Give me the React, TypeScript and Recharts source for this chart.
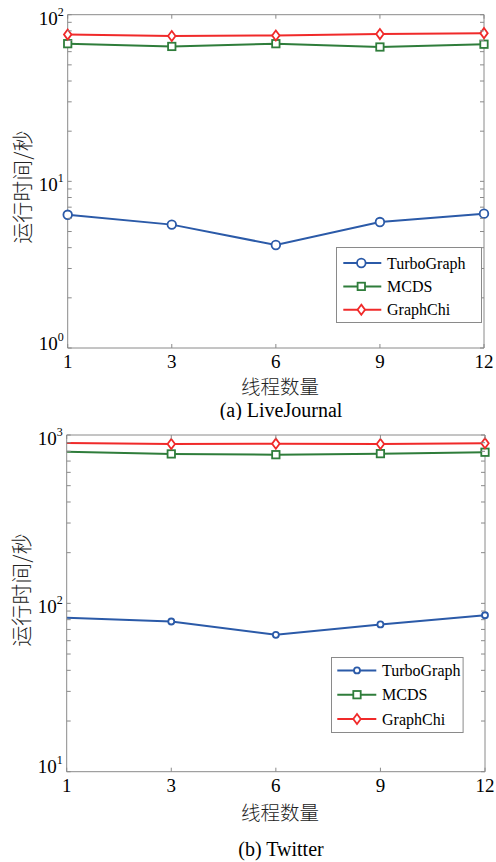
import React from 'react';
import { LineChart, Line, XAxis, YAxis, Legend, Customized } from 'recharts';

const threads = ['1', '3', '6', '9', '12'];
const seriesNames = ['TurboGraph', 'MCDS', 'GraphChi'];

// (a) LiveJournal
const ljTurbo = [6.3, 5.5, 4.15, 5.7, 6.4];
const ljMcds = [67, 64.5, 67, 64, 66.5];
const ljGraphChi = [76, 74.5, 75, 76.5, 77.5];
const ljYTicks = [1, 2, 3, 4, 5, 6, 7, 8, 9, 10, 20, 30, 40, 50, 60, 70, 80, 90, 100];

// (b) Twitter
const twTurbo = [82, 78, 65, 75, 85];
const twMcds = [795, 772, 764, 775, 790];
const twGraphChi = [895, 884, 888, 884, 893];
const twYTicks = [10, 20, 30, 40, 50, 60, 70, 80, 90, 100, 200, 300, 400, 500, 600, 700, 800, 900, 1000];

const ljData = threads.map((t, i) => ({ t, a: ljTurbo[i], b: ljMcds[i], c: ljGraphChi[i] }));
const twData = threads.map((t, i) => ({ t, a: twTurbo[i], b: twMcds[i], c: twGraphChi[i] }));

const BLUE = '#2b5aa8';
const GREEN = '#2f7d3b';
const RED = '#f02a2a';
const AXIS = '#8a8a8a';
const SERIF = "'Liberation Serif', 'Times New Roman', serif";
const CJK = "'Noto Sans CJK SC', sans-serif";

type Kind = 'circle' | 'square' | 'diamond';

const marker = (kind: Kind, cx: number, cy: number, color: string, size: number) => {
  if (kind === 'circle') {
    return <circle cx={cx} cy={cy} r={size} fill="#fff" stroke={color} strokeWidth={1.8} />;
  }
  if (kind === 'square') {
    return <rect x={cx - size} y={cy - size} width={size * 2} height={size * 2} fill="#fff" stroke={color} strokeWidth={1.8} />;
  }
  const w = size * 0.85;
  const h = size * 1.15;
  return (
    <path
      d={`M${cx},${cy - h} L${cx + w},${cy} L${cx},${cy + h} L${cx - w},${cy} Z`}
      fill="#fff"
      stroke={color}
      strokeWidth={1.8}
    />
  );
};

const makeDot = (kind: Kind, color: string, size: number, skipFirst: boolean) => (props: any) => {
  const { cx, cy, index } = props;
  if (cx == null || cy == null || (skipFirst && index === 0)) return <g key={`e${index}`} />;
  return <g key={`d${index}`}>{marker(kind, cx, cy, color, size)}</g>;
};

const isMajor = (v: number) => {
  const e = Math.log10(v);
  return Math.abs(e - Math.round(e)) < 1e-9;
};

const makeLeftTick = (minV: number) => (props: any) => {
  const { x, y, payload } = props;
  const v = payload.value;
  const major = isMajor(v);
  return (
    <g>
      <line x1={x} x2={x + 4} y1={y} y2={y} stroke={AXIS} strokeWidth={1} />
      {major && (
        <text
          x={x - 4}
          y={y + (v === minV ? 1.5 : 10)}
          textAnchor="end"
          fontSize={19}
          fill="#000"
          style={{ fontFamily: SERIF }}
        >
          10
          <tspan dy={-9} fontSize={12}>{Math.round(Math.log10(v))}</tspan>
        </text>
      )}
    </g>
  );
};

const RightTick = (props: any) => {
  const { x, y } = props;
  return <line x1={x} x2={x - 4} y1={y} y2={y} stroke={AXIS} strokeWidth={1} />;
};

const BottomTick = (props: any) => {
  const { x, y, payload } = props;
  return (
    <g>
      <line x1={x} x2={x} y1={y} y2={y - 4} stroke={AXIS} strokeWidth={1} />
      <text x={x} y={y + 20} textAnchor="middle" fontSize={19} fill="#000" style={{ fontFamily: SERIF }}>
        {payload.value}
      </text>
    </g>
  );
};

const TopTick = (props: any) => {
  const { x, y } = props;
  return <line x1={x} x2={x} y1={y} y2={y + 4} stroke={AXIS} strokeWidth={1} />;
};

const legendColors = [BLUE, GREEN, RED];
const legendKinds: Kind[] = ['circle', 'square', 'diamond'];

const makeLegend = (w: number, h: number, rows: number[], l1: number, l2: number, mx: number, tx: number, sizes: number[]) => () => (
  <svg width={w} height={h} style={{ display: 'block', overflow: 'visible' }}>
    <rect x={0.5} y={0.5} width={w - 1} height={h - 1} fill="#fff" stroke={AXIS} strokeWidth={1} />
    {seriesNames.map((n, i) => (
      <g key={n}>
        <line x1={l1} x2={l2} y1={rows[i]} y2={rows[i]} stroke={legendColors[i]} strokeWidth={2} />
        {marker(legendKinds[i], mx, rows[i], legendColors[i], sizes[i])}
        <text x={tx} y={rows[i] + 5.5} fontSize={16} fill="#000" style={{ fontFamily: SERIF }}>
          {n}
        </text>
      </g>
    ))}
  </svg>
);

const makeTitles = (yx: number, yc: number, xTitleY: number, capY: number, caption: string) => () => (
  <g>
    <text
      x={yx}
      y={yc}
      transform={`rotate(-90 ${yx} ${yc})`}
      textAnchor="middle"
      dominantBaseline="central"
      fontSize={21}
      fontWeight={300}
      fill="#222"
      style={{ fontFamily: CJK }}
    >
      运行时间/秒
    </text>
    <text x={280} y={xTitleY} textAnchor="middle" fontSize={19.5} fontWeight={300} fill="#222" style={{ fontFamily: CJK }}>
      线程数量
    </text>
    <text x={281} y={capY} textAnchor="middle" fontSize={20} fill="#000" style={{ fontFamily: SERIF }}>
      {caption}
    </text>
  </g>
);

interface PanelProps {
  data: any[];
  yTicks: number[];
  domain: [number, number];
  width: number;
  height: number;
  margin: { top: number; right: number; bottom: number; left: number };
  yWidth: number;
  circleSize: number;
  skipFirst: boolean;
  legend: () => React.ReactElement;
  legendPos: { left: number; top: number; width: number; height: number };
  titles: () => React.ReactElement;
}

const Panel = (p: PanelProps) => (
  <LineChart width={p.width} height={p.height} data={p.data} margin={p.margin}>
    <XAxis
      dataKey="t"
      xAxisId={0}
      height={1}
      axisLine={{ stroke: AXIS, strokeWidth: 1 }}
      tickLine={false}
      tickSize={0}
      tickMargin={0}
      interval={0}
      tick={BottomTick}
    />
    <XAxis
      dataKey="t"
      xAxisId="top"
      orientation="top"
      height={1}
      axisLine={{ stroke: AXIS, strokeWidth: 1 }}
      tickLine={false}
      tickSize={0}
      tickMargin={0}
      interval={0}
      tick={TopTick}
    />
    <YAxis
      yAxisId={0}
      scale="log"
      domain={p.domain}
      allowDataOverflow
      ticks={p.yTicks}
      interval={0}
      width={p.yWidth}
      axisLine={{ stroke: AXIS, strokeWidth: 1 }}
      tickLine={false}
      tickSize={0}
      tickMargin={0}
      tick={makeLeftTick(p.domain[0])}
    />
    <YAxis
      yAxisId="r"
      orientation="right"
      scale="log"
      domain={p.domain}
      allowDataOverflow
      ticks={p.yTicks}
      interval={0}
      width={1}
      axisLine={{ stroke: AXIS, strokeWidth: 1 }}
      tickLine={false}
      tickSize={0}
      tickMargin={0}
      tick={RightTick}
    />
    <Line
      type="linear"
      dataKey="a"
      name={seriesNames[0]}
      stroke={BLUE}
      strokeWidth={2}
      dot={makeDot('circle', BLUE, p.circleSize, p.skipFirst)}
      activeDot={false}
      isAnimationActive={false}
    />
    <Line
      type="linear"
      dataKey="b"
      name={seriesNames[1]}
      stroke={GREEN}
      strokeWidth={2}
      dot={makeDot('square', GREEN, 3.7, p.skipFirst)}
      activeDot={false}
      isAnimationActive={false}
    />
    <Line
      type="linear"
      dataKey="c"
      name={seriesNames[2]}
      stroke={RED}
      strokeWidth={2}
      dot={makeDot('diamond', RED, 4.4, p.skipFirst)}
      activeDot={false}
      isAnimationActive={false}
    />
    <Legend
      layout="vertical"
      align="center"
      verticalAlign="middle"
      content={p.legend}
      wrapperStyle={{ ...p.legendPos, position: 'absolute' }}
    />
    <Customized component={p.titles} />
  </LineChart>
);

export default function App() {
  return (
    <div style={{ position: 'absolute', left: 0, top: 0, width: 496, height: 862, background: '#fff' }}>
      <div style={{ position: 'absolute', left: 0, top: 0 }}>
        <Panel
          data={ljData}
          yTicks={ljYTicks}
          domain={[1, 100]}
          width={496}
          height={420}
          margin={{ top: 13.7, right: 11, bottom: 71, left: 0 }}
          yWidth={67.7}
          circleSize={4.3}
          skipFirst={false}
          legend={makeLegend(146, 76, [16, 39.4, 62.7], 7.3, 45.3, 25.3, 51, [4.3, 3.7, 4.4])}
          legendPos={{ left: 335.7, top: 247.3, width: 146, height: 76 }}
          titles={makeTitles(21, 187, 394, 416.5, '(a) LiveJournal')}
        />
      </div>
      <div style={{ position: 'absolute', left: 0, top: 420 }}>
        <Panel
          data={twData}
          yTicks={twYTicks}
          domain={[10, 1000]}
          width={496}
          height={442}
          margin={{ top: 14, right: 10, bottom: 89.3, left: 0 }}
          yWidth={66.7}
          circleSize={3}
          skipFirst={true}
          legend={makeLegend(132.6, 76, [13.4, 37.7, 62], 6.3, 45.3, 26, 51, [3, 3.7, 4.4])}
          legendPos={{ left: 330.7, top: 237.3, width: 132.6, height: 76 }}
          titles={makeTitles(20, 170, 400, 436, '(b) Twitter')}
        />
      </div>
    </div>
  );
}
